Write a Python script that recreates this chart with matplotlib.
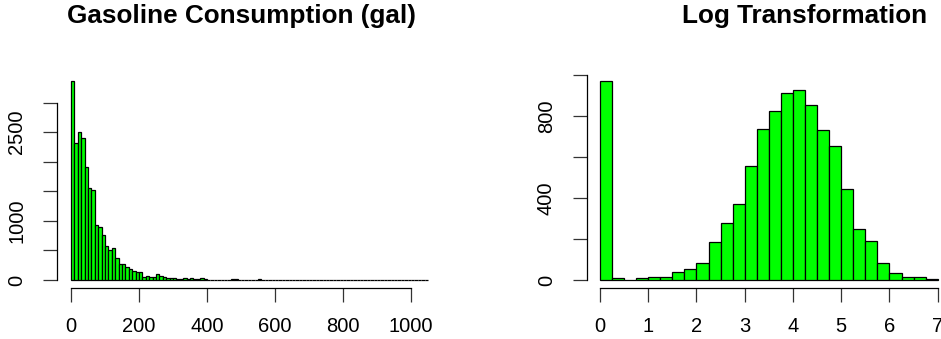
import numpy as np
import matplotlib
matplotlib.use("Agg")
import matplotlib.pyplot as plt

plt.rcParams['font.family'] = ['Liberation Sans', 'DejaVu Sans']

# left panel: gasoline consumption, bins of 10 gal from 0 to 1050
gas_bin_width = 10
gas_counts = [3367, 2312, 2510, 2397, 1918, 1551, 1523, 931, 902, 761,
              581, 508, 547, 378, 265, 265, 214, 186, 158, 130,
              130, 45, 73, 56, 56, 101, 62, 56, 28, 28,
              28, 11, 11, 28, 11, 28, 11, 11, 34, 11,
              8, 6, 6, 8, 6, 6, 6, 14, 12, 4,
              4, 4, 3, 4, 3, 18, 3, 2, 2, 3,
              2, 2, 2, 1, 2, 1, 1, 1, 2, 1,
              1, 1, 1, 1, 1, 1, 0, 1, 1, 0,
              1, 0, 0, 1, 0, 0, 1, 0, 0, 0,
              1, 0, 0, 0, 0, 1, 0, 0, 0, 0,
              0, 0, 0, 1, 1]
gas_yticks = [0, 500, 1000, 1500, 2000, 2500, 3000]
gas_ylabels = ['0', '', '1000', '', '', '2500', '']
gas_xticks = [0, 200, 400, 600, 800, 1000]

# right panel: log transformation, bins of 0.25 from 0 to 7
log_bin_width = 0.25
log_counts = [970, 8, 2, 8, 13, 13, 40, 53, 85, 184,
              280, 373, 555, 738, 824, 914, 926, 856, 731, 653,
              445, 248, 189, 85, 32, 13, 13, 5]
log_yticks = [0, 200, 400, 600, 800, 1000]
log_ylabels = ['0', '', '400', '', '800', '']
log_xticks = [0, 1, 2, 3, 4, 5, 6, 7]

W, H = 941, 339
fig = plt.figure(figsize=(W / 100, H / 100), dpi=100)


def px_axes(x0, x1, ytop, ybot):
    return fig.add_axes([x0 / W, 1 - ybot / H, (x1 - x0) / W, (ybot - ytop) / H])


def style(ax, xticks, yticks, ylabels):
    for s in ['top', 'right']:
        ax.spines[s].set_visible(False)
    ax.spines['bottom'].set_bounds(xticks[0], xticks[-1])
    ax.spines['left'].set_bounds(yticks[0], yticks[-1])
    for s in ['bottom', 'left']:
        ax.spines[s].set_linewidth(0.9)
    ax.set_xticks(xticks)
    ax.set_xticklabels([str(t) for t in xticks])
    ax.set_yticks(yticks)
    ax.set_yticklabels(ylabels, rotation=90, va='center')
    ax.tick_params(axis='both', direction='out', length=10, width=0.9,
                   labelsize=14.5, color='#333333')
    ax.tick_params(axis='x', pad=11)
    ax.tick_params(axis='y', pad=12)


# left histogram
ax1 = px_axes(56.7, 442.3, 73.1, 288.0)
edges = np.arange(len(gas_counts)) * gas_bin_width
ax1.bar(edges, gas_counts, width=gas_bin_width, align='edge',
        color='#00ff00', edgecolor='black', linewidth=0.9)
ax1.set_xlim(-42, 1092)
ax1.set_ylim(-135, 3500)
style(ax1, gas_xticks, gas_yticks, gas_ylabels)

# right histogram
ax2 = px_axes(586.5, 951.2, 73.2, 288.0)
edges = np.arange(len(log_counts)) * log_bin_width
ax2.bar(edges, log_counts, width=log_bin_width, align='edge',
        color='#00ff00', edgecolor='black', linewidth=0.9)
ax2.set_xlim(-0.28, 7.28)
ax2.set_ylim(-38.8, 1008.8)
style(ax2, log_xticks, log_yticks, log_ylabels)

fig.text(241 / W, 1 - 23 / H, 'Gasoline Consumption (gal)', ha='center',
         va='baseline', fontsize=18.8, fontweight='bold')
fig.text(805 / W, 1 - 23 / H, 'Log Transformation', ha='center',
         va='baseline', fontsize=18.8, fontweight='bold')

fig.savefig('out.png', dpi=100)
